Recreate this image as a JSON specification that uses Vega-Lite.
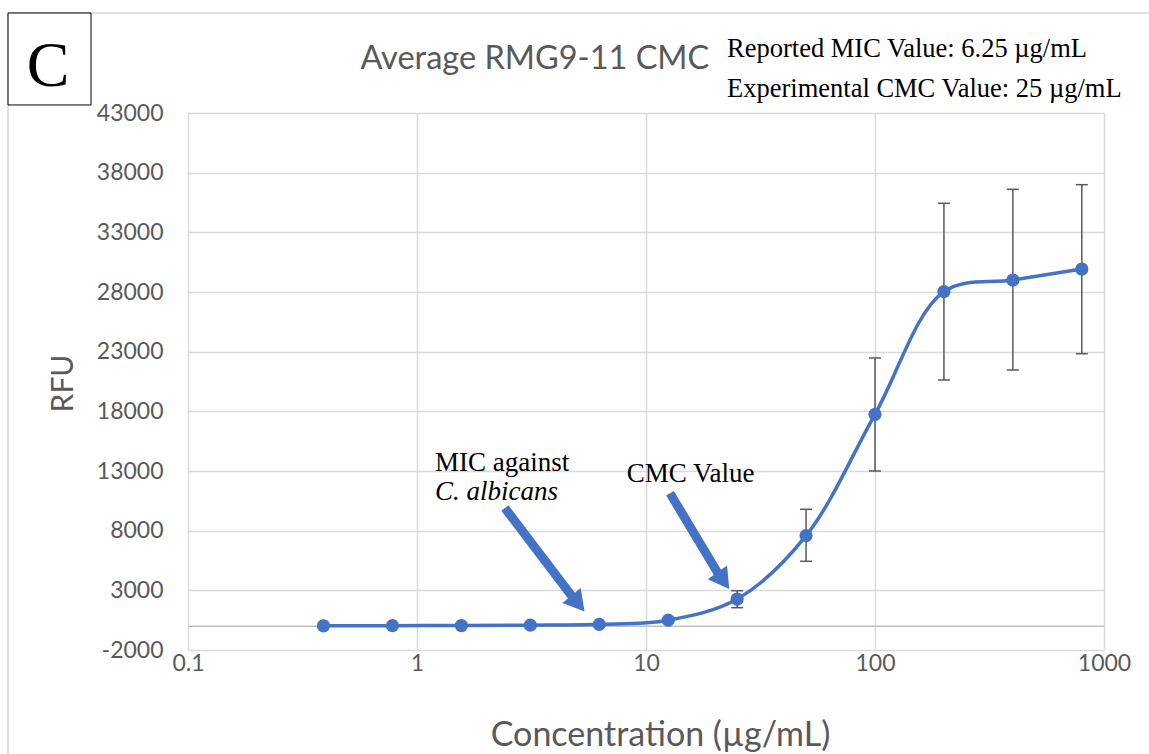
{
  "$schema": "https://vega.github.io/schema/vega-lite/v6.json",
  "autosize": {"type": "none"},
  "width": 916,
  "height": 537,
  "padding": {"left": 188, "top": 113, "right": 45, "bottom": 104},
  "background": "white",
  "view": {"stroke": null},
  "config": {"font": "Lato"},
  "datasets": {
    "main": [
      {"x": 0.390625, "y": 30},
      {"x": 0.78125, "y": 40},
      {"x": 1.5625, "y": 50},
      {"x": 3.125, "y": 80},
      {"x": 6.25, "y": 150},
      {"x": 12.5, "y": 500},
      {"x": 25, "y": 2270, "lo": 1545, "hi": 2969},
      {"x": 50, "y": 7580, "lo": 5433, "hi": 9791},
      {"x": 100, "y": 17750, "lo": 13000, "hi": 22470},
      {"x": 200, "y": 28026, "lo": 20626, "hi": 35434},
      {"x": 400, "y": 29006, "lo": 21464, "hi": 36607},
      {"x": 800, "y": 29928, "lo": 22830, "hi": 36993}
    ],
    "arrows": [
      {"x": 2.42, "y": 9900, "x2": 4.85, "y2": 2274},
      {"x": 12.73, "y": 11132, "x2": 20.84, "y2": 4285}
    ],
    "heads": [
      {"x": 5.05, "y": 1897, "angle": 140.5},
      {"x": 21.76, "y": 3807, "angle": 144.6}
    ]
  },
  "encoding": {
    "x": {
      "field": "x",
      "type": "quantitative",
      "scale": {"type": "log", "domain": [0.1, 1000], "nice": false},
      "axis": {
        "values": [0.1, 1, 10, 100, 1000],
        "labelExpr": "datum.value + ''",
        "grid": true,
        "gridColor": "#d9d9d9",
        "gridWidth": 1.5,
        "ticks": false,
        "domain": false,
        "labelFont": "Lato",
        "labelFontSize": 23,
        "labelColor": "#595959",
        "labelPadding": 2,
        "labelOverlap": false,
        "labelFlush": false,
        "title": "Concentration (µg/mL)",
        "titleFont": "Lato",
        "titleFontSize": 34,
        "titleFontWeight": "normal",
        "titleColor": "#595959",
        "titleX": 472,
        "titleY": 95,
        "titleAlign": "center",
        "titleBaseline": "alphabetic"
      }
    },
    "y": {
      "field": "y",
      "type": "quantitative",
      "scale": {"domain": [-2000, 43000], "nice": false, "zero": false},
      "axis": {
        "values": [-2000, 3000, 8000, 13000, 18000, 23000, 28000, 33000, 38000, 43000],
        "labelExpr": "datum.value + ''",
        "grid": true,
        "gridColor": "#d9d9d9",
        "gridWidth": 1.5,
        "ticks": false,
        "domain": false,
        "labelFont": "Lato",
        "labelFontSize": 23,
        "labelColor": "#595959",
        "labelPadding": 25,
        "labelOverlap": false,
        "labelFlush": false,
        "title": "RFU",
        "titleFont": "Lato",
        "titleFontSize": 30,
        "titleFontWeight": "normal",
        "titleColor": "#595959",
        "titleX": -125,
        "titleY": 270,
        "titleAngle": -90,
        "titleAlign": "center",
        "titleBaseline": "middle"
      }
    }
  },
  "layer": [
    {
      "data": {"values": [{"x": 0.01637, "x2": 1758, "y": 51381, "y2": -11218}]},
      "mark": {"type": "rect", "filled": false, "stroke": "#d9d9d9", "strokeWidth": 1.5},
      "encoding": {"x2": {"field": "x2"}, "y2": {"field": "y2"}}
    },
    {
      "data": {"values": [{"x": 0.01637, "x2": 0.03771, "y": 51381, "y2": 43672}]},
      "mark": {"type": "rect", "fill": "white", "stroke": "black", "strokeWidth": 1},
      "encoding": {"x2": {"field": "x2"}, "y2": {"field": "y2"}}
    },
    {
      "data": {"values": [{"x": 0.02449, "y": 45264, "label": "C"}]},
      "mark": {"type": "text", "font": "Liberation Serif", "fontSize": 64, "align": "center", "baseline": "alphabetic", "color": "black"},
      "encoding": {"text": {"field": "label"}}
    },
    {
      "data": {"values": [{"x": 3.27, "y": 46689, "label": "Average RMG9-11 CMC"}]},
      "mark": {"type": "text", "font": "Lato", "fontSize": 32.5, "align": "center", "baseline": "alphabetic", "color": "#595959"},
      "encoding": {"text": {"field": "label"}}
    },
    {
      "data": {"values": [
        {"x": 22.58, "y": 47694, "label": "Reported MIC Value: 6.25 µg/mL"},
        {"x": 22.58, "y": 44317, "label": "Experimental CMC Value: 25 µg/mL"}
      ]},
      "mark": {"type": "text", "font": "Liberation Serif", "fontSize": 26.5, "align": "left", "baseline": "alphabetic", "color": "black"},
      "encoding": {"text": {"field": "label"}}
    },
    {
      "data": {"values": [{"x": 0.1, "x2": 1000, "y": 0}]},
      "mark": {"type": "rule", "stroke": "#bfbfbf", "strokeWidth": 1.5},
      "encoding": {"x2": {"field": "x2"}}
    },
    {
      "data": {"name": "main"},
      "transform": [{"filter": "isValid(datum.hi)"}],
      "mark": {"type": "rule", "stroke": "#595959", "strokeWidth": 1.5},
      "encoding": {"y": {"field": "lo", "type": "quantitative"}, "y2": {"field": "hi"}}
    },
    {
      "data": {"name": "main"},
      "transform": [{"filter": "isValid(datum.hi)"}],
      "mark": {"type": "tick", "orient": "horizontal", "size": 12, "thickness": 1.5, "color": "#595959", "opacity": 1},
      "encoding": {"y": {"field": "lo", "type": "quantitative"}}
    },
    {
      "data": {"name": "main"},
      "transform": [{"filter": "isValid(datum.hi)"}],
      "mark": {"type": "tick", "orient": "horizontal", "size": 12, "thickness": 1.5, "color": "#595959", "opacity": 1},
      "encoding": {"y": {"field": "hi", "type": "quantitative"}}
    },
    {
      "data": {"name": "main"},
      "mark": {"type": "line", "interpolate": "catmull-rom", "color": "#4472C4", "strokeWidth": 3.5}
    },
    {
      "data": {"name": "main"},
      "mark": {"type": "circle", "size": 175, "color": "#4472C4", "opacity": 1}
    },
    {
      "data": {"name": "arrows"},
      "mark": {"type": "rule", "stroke": "#4472C4", "strokeWidth": 9, "strokeCap": "butt"},
      "encoding": {"x2": {"field": "x2"}, "y2": {"field": "y2"}}
    },
    {
      "data": {"name": "heads"},
      "mark": {"type": "point", "shape": "triangle-up", "filled": true, "size": 560, "color": "#4472C4", "opacity": 1},
      "encoding": {"angle": {"field": "angle", "type": "quantitative", "scale": null}}
    },
    {
      "data": {"values": [
        {"x": 1.198, "y": 13000, "label": "MIC against"},
        {"x": 8.236, "y": 12104, "label": "CMC Value"}
      ]},
      "mark": {"type": "text", "font": "Liberation Serif", "fontSize": 27, "align": "left", "baseline": "alphabetic", "color": "black"},
      "encoding": {"text": {"field": "label"}}
    },
    {
      "data": {"values": [{"x": 1.198, "y": 10570, "label": "C. albicans"}]},
      "mark": {"type": "text", "font": "Liberation Serif", "fontSize": 27, "fontStyle": "italic", "align": "left", "baseline": "alphabetic", "color": "black"},
      "encoding": {"text": {"field": "label"}}
    }
  ]
}
